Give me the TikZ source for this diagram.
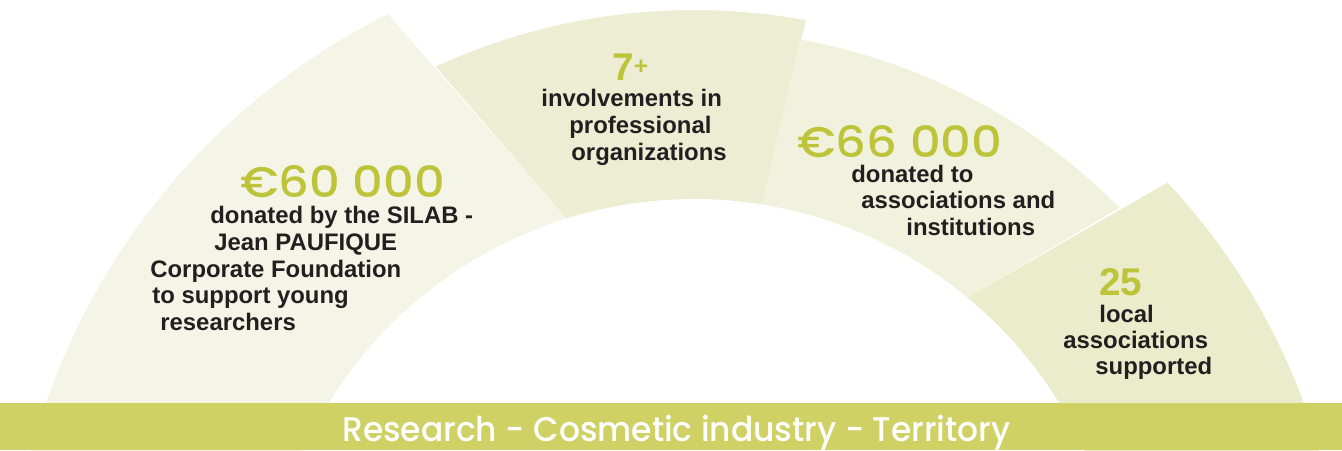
\documentclass[tikz,border=0pt]{standalone}
\usepackage{fontspec}
\setmainfont{Liberation Sans}
\newfontfamily\numfont{Poppins Medium}
\newfontfamily\barfont{Poppins Medium}
\definecolor{segA}{HTML}{F4F5E6}
\definecolor{segB}{HTML}{EDEDD4}
\definecolor{segC}{HTML}{F1F2DD}
\definecolor{segD}{HTML}{EAECCB}
\definecolor{barcol}{HTML}{CFD165}
\definecolor{numcol}{HTML}{BEC43A}
\definecolor{txtcol}{HTML}{231F20}
\tikzset{
  txt/.style={font=\fontsize{13.6}{16}\selectfont\bfseries, text=txtcol, inner sep=0pt, anchor=base west},
  bignum/.style={font=\numfont\fontsize{24.4}{28}\selectfont, text=numcol, inner sep=0pt, anchor=base west, text depth=0pt},
  smallnum/.style={font=\fontsize{22}{26}\selectfont\bfseries, text=numcol, inner sep=0pt, anchor=base west, text depth=0pt},
  bartxt/.style={font=\barfont\fontsize{19.5}{22}\selectfont, text=white, inner sep=0pt, anchor=base west, text depth=0pt}
}
\begin{document}
\begin{tikzpicture}[x=0.02cm, y=-0.02cm]
\useasboundingbox (0,0) rectangle (1342,450);
\clip (0,0) rectangle (1342,450);
\begin{scope}[shift={(694,628)}]
\fill[segA] (-180:429) arc[start angle=-180, end angle=-107.3, radius=429] -- (-116.5:686) arc[start angle=-116.5, end angle=-180, radius=686] -- cycle;
\fill[segB] (-107.3:429) -- (-114.7:618) arc[start angle=-114.7, end angle=-79.56, radius=618] -- (-80.9:429) arc[start angle=-80.9, end angle=-107.3, radius=429] -- cycle;
\fill[segC] (-80.9:429) -- (-79.8:598) arc[start angle=-79.8, end angle=-44.66, radius=598] -- (-50.4:429) arc[start angle=-50.4, end angle=-80.9, radius=429] -- cycle;
\fill[segD] (-50.4:429) -- (-43.25:650) arc[start angle=-43.25, end angle=0, radius=650] -- (0:429) arc[start angle=0, end angle=-50.4, radius=429] -- cycle;
\end{scope}
\fill[barcol] (0,403) rectangle (1342,450);
% segment 1
\node[bignum] (n1) at (240,197) {\scalebox{1.12}[1]{€60 000}};
\node[txt] (t1a) at (210,223) {donated by the SILAB -};
\node[txt] (t1b) at (214,250) {Jean PAUFIQUE};
\node[txt] (t1c) at (150,277) {Corporate Foundation};
\node[txt] (t1d) at (152,303) {to support young};
\node[txt] (t1e) at (160,330) {researchers};
% segment 2
\node[smallnum] (n2) at (612,80) {7\raisebox{0.25ex}{\fontsize{14}{16}\selectfont+}};
\node[txt] (t2a) at (541,106) {involvements in};
\node[txt] (t2b) at (569,133) {professional};
\node[txt] (t2c) at (571,160) {organizations};
% segment 3
\node[bignum] (n3) at (797,157) {\scalebox{1.12}[1]{€66 000}};
\node[txt] (t3a) at (851,182) {donated to};
\node[txt] (t3b) at (861,208) {associations and};
\node[txt] (t3c) at (906,235) {institutions};
% segment 4
\node[smallnum] (n4) at (1099,295) {25};
\node[txt] (t4a) at (1099,322) {local};
\node[txt] (t4b) at (1063,348) {associations};
\node[txt] (t4c) at (1095,374) {supported};
% bar
\node[bartxt] (bar) at (342,441) {\scalebox{0.96}[1]{Research - Cosmetic industry - Territory}};
\end{tikzpicture}
\end{document}
